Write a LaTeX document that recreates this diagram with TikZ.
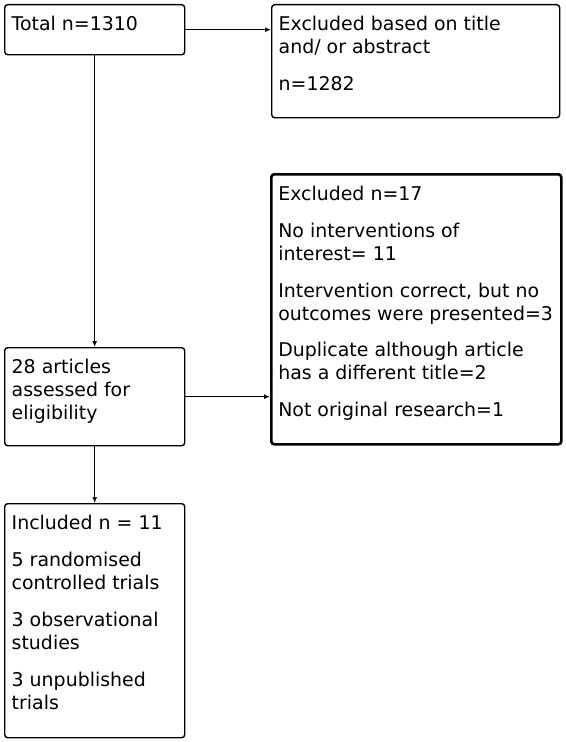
\documentclass[tikz,border=0pt]{standalone}
\usepackage{fontspec}
\setmainfont{DejaVu Sans}
\usetikzlibrary{arrows.meta}
\newcommand{\boxbody}[3]{\parbox[c][#2][t]{#1}{\raggedright\setlength{\parskip}{14bp}\strut #3}}

\begin{document}
\begin{tikzpicture}[x=1bp, y=-1bp,
		flowbox/.style={draw, rounded corners=3bp, line width=1.4bp, anchor=north west,
			inner xsep=7bp, inner ysep=10bp, font=\fontsize{19}{23}\selectfont},
		flowarrow/.style={line width=1.3bp, -{Latex[length=6bp,width=5bp]}}]
				\useasboundingbox (0,0) rectangle (566,742);
				\node[flowbox] (total) at (4,4) {\boxbody{166bp}{30bp}{Total n=1310}};
				\node[flowbox] (excltitle) at (271,4) {\boxbody{274bp}{93bp}{Excluded based on title\\and/ or abstract\par n=1282}};
				\node[flowbox] (assessed) at (4,347) {\boxbody{166bp}{78bp}{28 articles\\assessed for\\eligibility}};
				\node[flowbox, line width=2.6bp] (exclfull) at (270,173) {\boxbody{276bp}{250bp}{Excluded n=17\par
					No interventions of\\interest= 11\par
					Intervention correct, but no\\outcomes were presented=3\par
					Duplicate although article\\has a different title=2\par
					Not original research=1}};
				\node[flowbox] (included) at (4,503) {\boxbody{166bp}{214bp}{Included n = 11\par
					5 randomised\\controlled trials\par
					3 observational\\studies\par
					3 unpublished\\trials}};
				\draw[flowarrow] (total.east) -- (total.east -| excltitle.west);
				\draw[flowarrow] (total.south) -- (assessed.north);
				\draw[flowarrow] (assessed.east) -- (assessed.east -| exclfull.west);
				\draw[flowarrow] (assessed.south) -- (included.north);
			\end{tikzpicture}
\end{document}
